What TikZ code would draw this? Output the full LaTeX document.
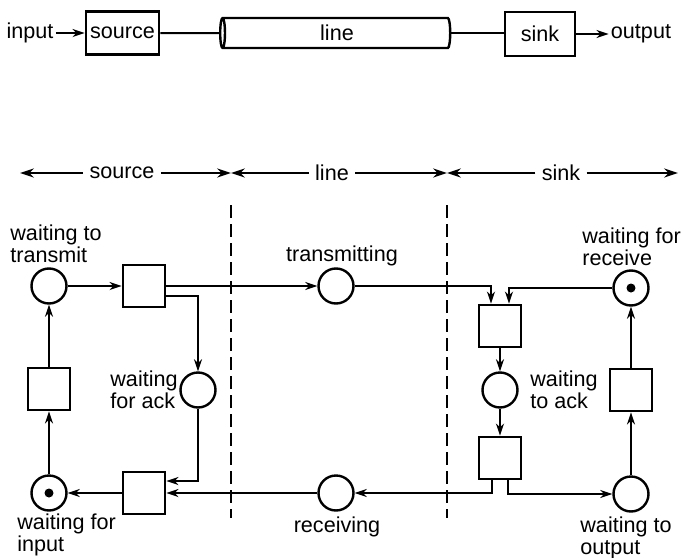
\documentclass[tikz,border=0pt]{standalone}
\usepackage{fontspec}
\setmainfont{Liberation Sans}
\usetikzlibrary{arrows.meta,calc,shapes.geometric}
\newcommand{\lblfont}{\fontsize{10.8}{10.8}\selectfont}
\tikzset{
  place/.style={draw, circle, minimum size=17.5pt, inner sep=0pt, line width=1.2pt},
  trans/.style={draw, rectangle, minimum width=21pt, minimum height=21pt,
                inner sep=0pt, line width=1.4pt},
  unit/.style={draw, rectangle, minimum width=36pt, minimum height=22pt,
               inner sep=0pt, line width=1.4pt, font=\lblfont},
  pipe/.style={draw, cylinder, shape border rotate=180, aspect=0.3,
               minimum width=15pt, minimum height=115pt, inner sep=0pt,
               line width=1.2pt, font=\lblfont},
  token/.style={fill, circle, inner sep=0pt, minimum size=4.5pt},
  arrow/.style={-{Stealth[length=6pt, width=4pt]}, line width=1pt},
  bigarrow/.style={-{Stealth[length=7pt, width=4.6pt]}, line width=1pt},
  link/.style={line width=1pt},
  divider/.style={line width=1.1pt, dash pattern=on 6.5pt off 3pt},
  lbl/.style={font=\lblfont, align=left, inner sep=0pt},
  span/.style={font=\lblfont, inner sep=3pt},
}

\begin{document}
\begin{tikzpicture}[x=0.5pt, y=-0.5pt]
\useasboundingbox (0,0) rectangle (682,558);

% ---------------- top: the three parts in a row ----------------
\node[lbl, inner sep=1pt] (input) at (30,33) {input};
\node[unit, minimum width=36.5pt, minimum height=21.5pt] (source) at (122.5,33) {source};
\node[pipe] (channel) at (337,33) {line};
\node[unit, minimum width=35pt] (sink) at (540,34) {sink};
\node[lbl, inner sep=1pt] (output) at (641,34) {output};

\draw[arrow] (input) -- (source);
\draw[link] (source) -- (channel);
\draw[link] (channel.east) -- (sink.west |- channel.east);
\draw[arrow] (sink) -- (output);

% ---------------- middle: extent of each part -------------------
\coordinate (s0) at (20,173);
\coordinate (s1) at (231,173);
\coordinate (s2) at (447,173);
\coordinate (s3) at (678,173);
\node[span] (srcspan) at (122,173) {source};
\node[span] (linespan) at (332,173) {line};
\node[span] (sinkspan) at (561,173) {sink};
\draw[bigarrow] (srcspan) -- (s0);
\draw[bigarrow] (srcspan) -- (s1);
\draw[bigarrow] (linespan) -- (s1);
\draw[bigarrow] (linespan) -- (s2);
\draw[bigarrow] (sinkspan) -- (s2);
\draw[bigarrow] (sinkspan) -- (s3);

% dashed borders between the parts
\coordinate (d1top) at (231,205);
\coordinate (d1bot) at (231,518);
\coordinate (d2top) at (447,205);
\coordinate (d2bot) at (447,518);
\draw[divider] (d1top) -- (d1bot);
\draw[divider] (d2top) -- (d2bot);

% ---------------- bottom: the net ------------------------------
% places
\node[place] (wtt) at (49,286) {};
\node[place] (wfa) at (198,390) {};
\node[place] (wfi) at (49,493) {};
\node[place] (trm) at (336,286) {};
\node[place] (rcv) at (336,493) {};
\node[place] (wfr) at (631,288) {};
\node[place] (wta) at (500,390) {};
\node[place] (wto) at (631,494) {};
\node[token] (wfidot) at (wfi) {};
\node[token] (wfrdot) at (wfr) {};

% transitions
\node[trans] (t1) at (144,286) {};
\node[trans] (t2) at (49,389) {};
\node[trans] (t3) at (144,493) {};
\node[trans] (t4) at (500,326) {};
\node[trans] (t5) at (500,458) {};
\node[trans] (t6) at (631,390) {};

% source side
\draw[arrow] (wfi) -- (t2);
\draw[arrow] (t2) -- (wtt);
\draw[arrow] (wtt) -- (t1);
\draw[arrow] (t1) -- (trm);
\draw[arrow] ($(t1.east)+(0,10)$) -| (wfa);
\draw[arrow] (wfa) |- ($(t3.east)+(0,-12)$);
\draw[arrow] (rcv) -- (t3);
\draw[arrow] (t3) -- (wfi);

% sink side
\draw[arrow] (trm) -| ($(t4.north)+(-9,0)$);
\draw[arrow] (wfr) -| ($(t4.north)+(9,0)$);
\draw[arrow] (t4) -- (wta);
\draw[arrow] (wta) -- (t5);
\draw[arrow] ($(t5.south)+(-8,0)$) |- (rcv);
\draw[arrow] ($(t5.south)+(8,0)$) |- (wto);
\draw[arrow] (wto) -- (t6);
\draw[arrow] (t6) -- (wfr);

% place names
\node[lbl, anchor=west] (wttlab) at (10,244) {waiting to\\transmit};
\node[lbl, anchor=west] (wfalab) at (110,390) {waiting\\for ack};
\node[lbl, anchor=west] (wfilab) at (17,535) {waiting for\\input};
\node[lbl] (trmlab) at (342,256) {transmitting};
\node[lbl] (rcvlab) at (337,527) {receiving};
\node[lbl, anchor=west] (wfrlab) at (582,247) {waiting for\\receive};
\node[lbl, anchor=west] (wtalab) at (530,390) {waiting\\to ack};
\node[lbl, anchor=west] (wtolab) at (580,538) {waiting to\\output};
\end{tikzpicture}
\end{document}
